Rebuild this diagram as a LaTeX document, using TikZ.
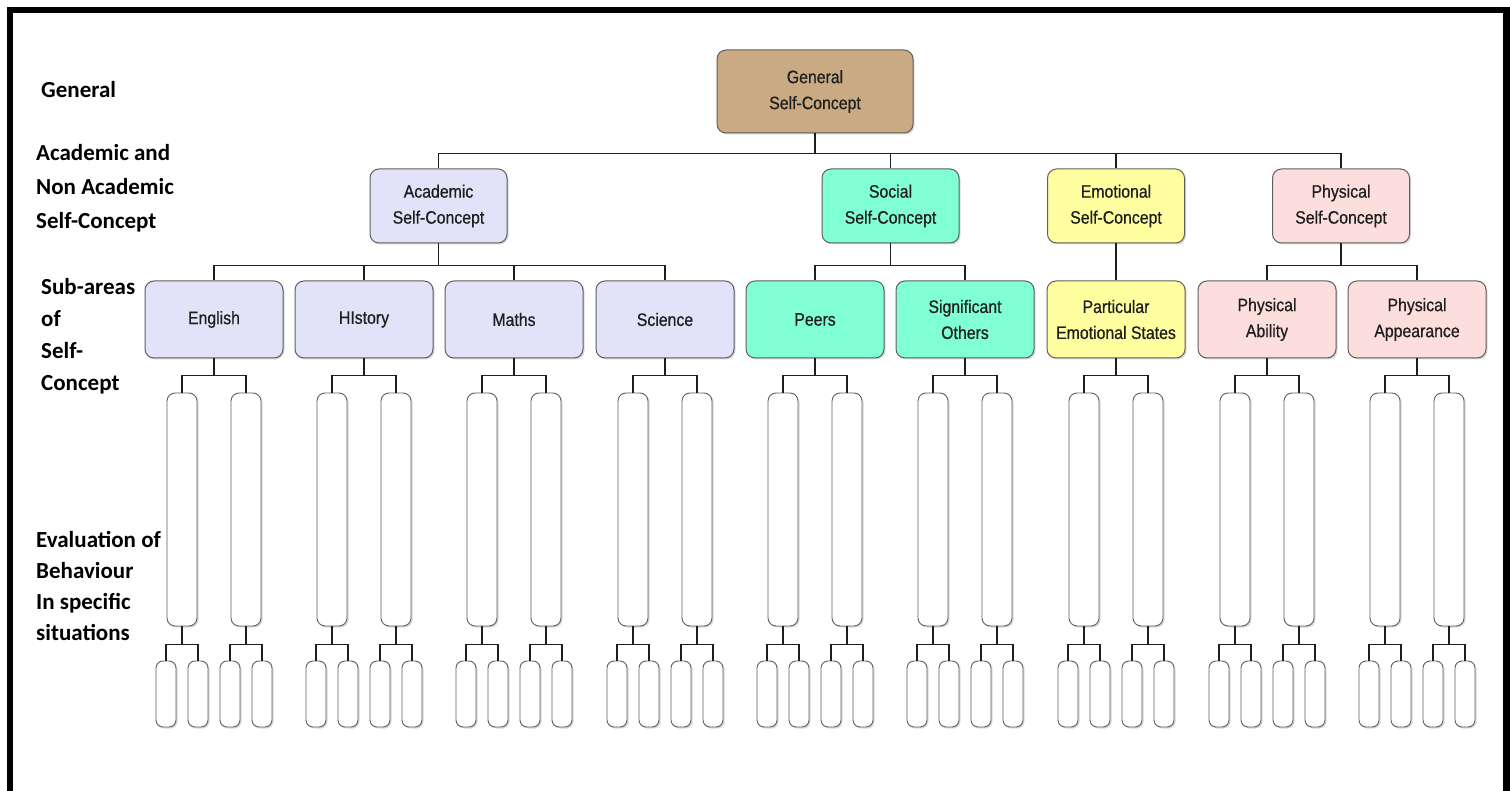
\documentclass[tikz,border=0pt]{standalone}
\usepackage{fontspec}
\setmainfont{Liberation Sans}
\newfontfamily\boxfont[FakeStretch=0.88,FakeBold=0.6]{Liberation Sans}
\newfontfamily\labelfont{Carlito}
\usetikzlibrary{shadows}
\definecolor{tanfill}{RGB}{201,170,130}
\definecolor{acadfill}{RGB}{226,226,248}
\definecolor{socfill}{RGB}{128,255,212}
\definecolor{emofill}{RGB}{255,255,160}
\definecolor{physfill}{RGB}{252,222,220}
\definecolor{edgegrey}{RGB}{95,95,95}
\definecolor{inkdark}{RGB}{30,30,30}
\begin{document}
\begin{tikzpicture}[x=1pt,y=-1pt,
  softshadow/.style={drop shadow={shadow xshift=1.5pt,shadow yshift=-1.5pt,opacity=0.3}},
  box/.style={draw=edgegrey,line width=1pt,rounded corners=9pt,align=center,
    inner sep=0pt,text=inkdark,font=\boxfont\fontsize{18}{26}\selectfont,softshadow},
  topbox/.style={box,minimum width=196pt,minimum height=83pt},
  areabox/.style={box,minimum width=137pt,minimum height=74pt},
  subbox/.style={box,minimum width=138pt,minimum height=77pt},
  tallbox/.style={draw=edgegrey,line width=0.9pt,fill=white,rounded corners=8pt,
    minimum width=30pt,minimum height=233pt,inner sep=0pt,softshadow},
  smallbox/.style={draw=edgegrey,line width=0.9pt,fill=white,rounded corners=7pt,
    minimum width=20pt,minimum height=66pt,inner sep=0pt,softshadow},
  link/.style={draw=inkdark,line width=1.3pt},
  side/.style={anchor=west,align=left,inner sep=0pt,text=black,
    font=\labelfont\bfseries\fontsize{23}{34}\selectfont}
]
\useasboundingbox (0,0) rectangle (1510,791);
\fill[white] (0,0) rectangle (1510,791);
% outer frame
\draw[line width=6.5pt] (10,800) -- (10,10) -- (1506.5,10) -- (1506.5,800);

% level captions on the left
\node[side] (lgen) at (41,90) {General};
\node[side] (lacad) at (36,188) {Academic and\\Non Academic\\Self-Concept};
\node[side,font=\labelfont\bfseries\fontsize{23}{32}\selectfont] (lsub) at (41,336) {Sub-areas\\of\\Self-\\Concept};
\node[side,font=\labelfont\bfseries\fontsize{23}{31}\selectfont] (leval) at (36,586) {Evaluation of\\Behaviour\\In specific\\situations};

% top of the hierarchy
\node[topbox,fill=tanfill] (gen) at (815,91.5) {General\\Self-Concept};

% academic and non-academic self-concept
\node[areabox,fill=acadfill] (acad) at (438.5,206) {Academic\\Self-Concept};
\node[areabox,fill=socfill] (soc) at (890.5,206) {Social\\Self-Concept};
\node[areabox,fill=emofill] (emo) at (1116,206) {Emotional\\Self-Concept};
\node[areabox,fill=physfill] (phys) at (1341,206) {Physical\\Self-Concept};
\foreach \n in {acad,soc,emo,phys}
  \draw[link] (gen.south) -- ++(0,20) -| (\n.north);

% sub-areas
\node[subbox,fill=acadfill] (s1) at (214,319.5) {English};
\node[subbox,fill=acadfill] (s2) at (364,319.5) {HIstory};
\node[subbox,fill=acadfill] (s3) at (514,319.5) {Maths};
\node[subbox,fill=acadfill] (s4) at (665,319.5) {Science};
\node[subbox,fill=socfill] (s5) at (815,319.5) {Peers};
\node[subbox,fill=socfill] (s6) at (965,319.5) {Significant\\Others};
\node[subbox,fill=emofill] (s7) at (1116,319.5) {Particular\\Emotional States};
\node[subbox,fill=physfill] (s8) at (1267,319.5) {Physical\\Ability};
\node[subbox,fill=physfill] (s9) at (1417,319.5) {Physical\\Appearance};
\foreach \n in {s1,s2,s3,s4}
  \draw[link] (acad.south) -- ++(0,22) -| (\n.north);
\foreach \n in {s5,s6}
  \draw[link] (soc.south) -- ++(0,22) -| (\n.north);
\draw[link] (emo.south) -- (s7.north);
\foreach \n in {s8,s9}
  \draw[link] (phys.south) -- ++(0,22) -| (\n.north);

% evaluations of behaviour in specific situations
\foreach \i/\c in {1/214,2/364,3/514,4/665,5/815,6/965,7/1116,8/1267,9/1417} {
  \foreach \k/\d in {a/-32,b/32} {
    \pgfmathsetmacro\tx{\c+\d}
    \node[tallbox] (t\i\k) at (\tx,509.5) {};
    \draw[link] (s\i.south) -- ++(0,17) -| (t\i\k.north);
    \foreach \m/\e in {a/-16,b/16} {
      \pgfmathsetmacro\ux{\tx+\e}
      \node[smallbox] (u\i\k\m) at (\ux,694) {};
      \draw[link] (t\i\k.south) -- ++(0,18) -| (u\i\k\m.north);
    }
  }
}
\end{tikzpicture}
\end{document}
